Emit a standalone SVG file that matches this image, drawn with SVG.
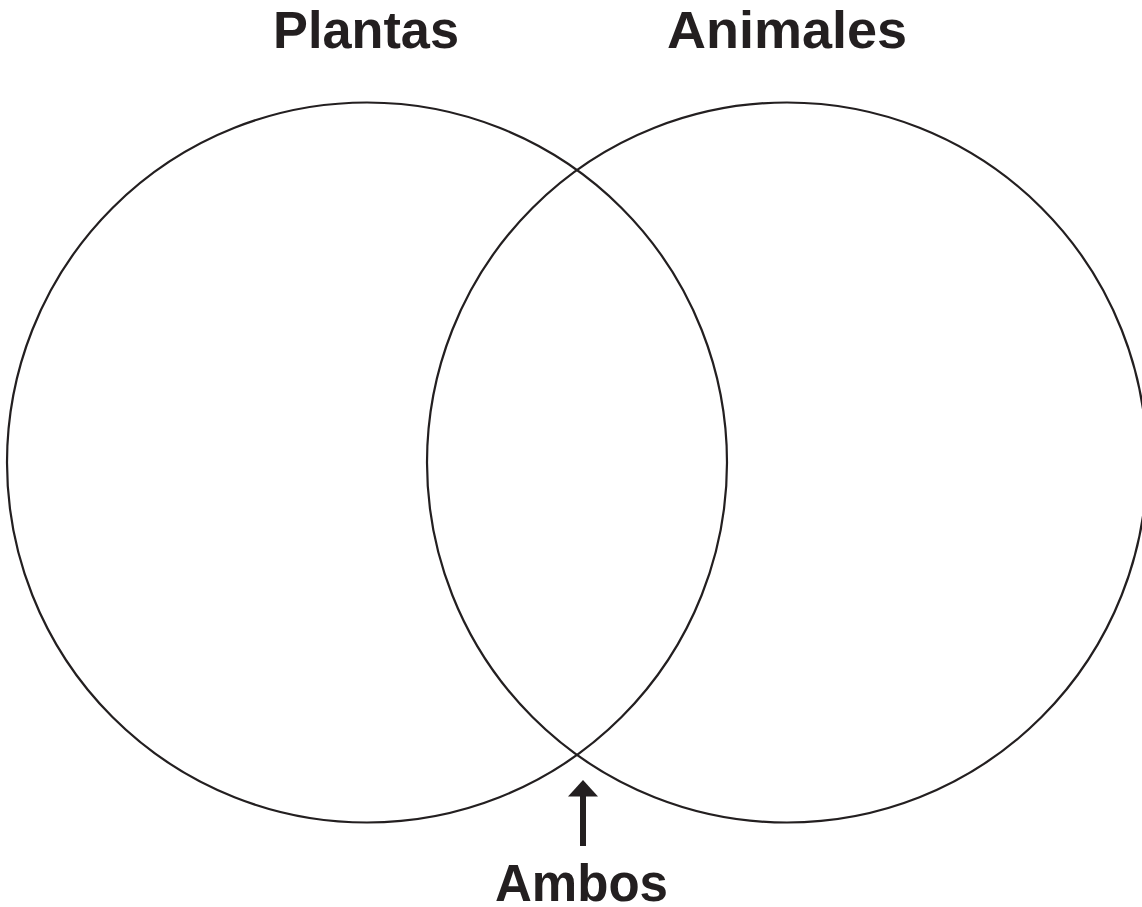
<svg xmlns="http://www.w3.org/2000/svg" width="1142" height="907" viewBox="0 0 1142 907">
<style>
.c{fill:none;stroke:#231f20;stroke-width:2.2}
.t{font-family:"Liberation Sans",Arial,sans-serif;font-weight:bold;font-size:51px;fill:#231f20;text-anchor:middle}
</style>
<rect width="1142" height="907" fill="#fff"/>
<g id="plantas"><circle class="c" cx="367" cy="462.5" r="360"/><text class="t" x="366" y="48" textLength="186" lengthAdjust="spacingAndGlyphs">Plantas</text></g>
<g id="animales"><circle class="c" cx="787" cy="462.5" r="360"/><text class="t" x="787" y="48" textLength="240" lengthAdjust="spacingAndGlyphs">Animales</text></g>
<g id="ambos"><text class="t" x="581.5" y="901" textLength="173" lengthAdjust="spacingAndGlyphs">Ambos</text></g>
<g id="connectors"><rect x="580" y="795" width="6" height="51" fill="#231f20"/><polygon points="583,780 598,796.5 568,796.5" fill="#231f20"/></g>
</svg>
